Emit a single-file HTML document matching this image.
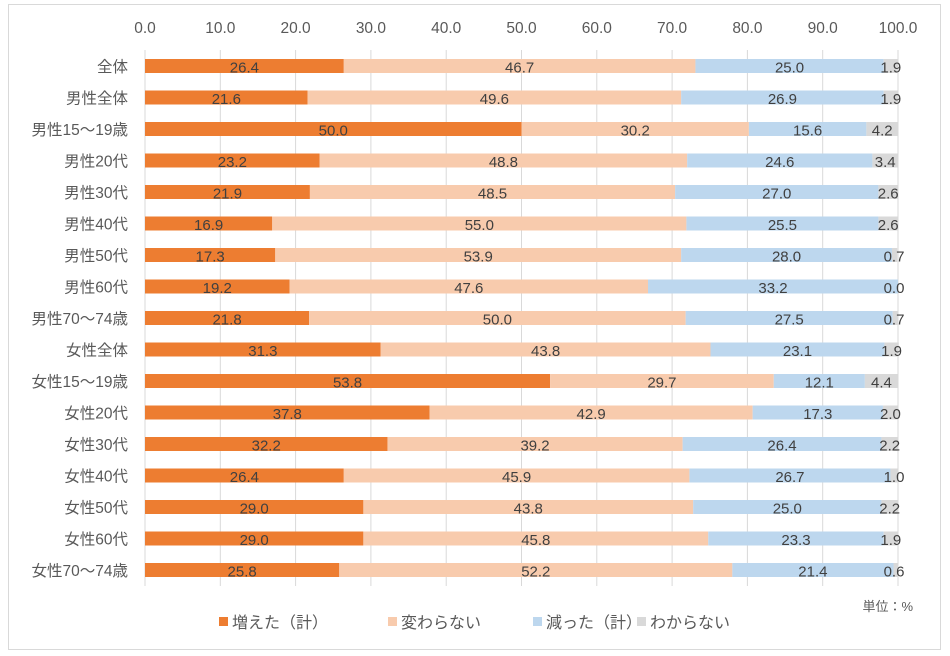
<!DOCTYPE html>
<html><head><meta charset="utf-8"><style>
body{margin:0;background:#fff;}
svg{display:block;font-family:"Liberation Sans","Noto Sans CJK JP",sans-serif;}
</style></head><body>
<svg id="c" width="950" height="656">
<rect x="8.5" y="4.5" width="932" height="645" fill="#fff" stroke="#d9d9d9"/>
<g id="grid"></g><g id="bars"></g><g id="labels"></g>
<text x="913" y="611" font-size="13" fill="#595959" text-anchor="end">単位：%</text>
<g id="legend"></g>
</svg>
<script>
const categories=["全体","男性全体","男性15～19歳","男性20代","男性30代","男性40代","男性50代","男性60代","男性70～74歳","女性全体","女性15～19歳","女性20代","女性30代","女性40代","女性50代","女性60代","女性70～74歳"];
const increased=[26.4,21.6,50.0,23.2,21.9,16.9,17.3,19.2,21.8,31.3,53.8,37.8,32.2,26.4,29.0,29.0,25.8];
const unchanged=[46.7,49.6,30.2,48.8,48.5,55.0,53.9,47.6,50.0,43.8,29.7,42.9,39.2,45.9,43.8,45.8,52.2];
const decreased=[25.0,26.9,15.6,24.6,27.0,25.5,28.0,33.2,27.5,23.1,12.1,17.3,26.4,26.7,25.0,23.3,21.4];
const unknown=[1.9,1.9,4.2,3.4,2.6,2.6,0.7,0.0,0.7,1.9,4.4,2.0,2.2,1.0,2.2,1.9,0.6];
const ticks=[0,10,20,30,40,50,60,70,80,90,100];
const seriesNames=["増えた（計）","変わらない","減った（計）","わからない"];
const colors=["#ED7D31","#F8CBAD","#BDD7EE","#D9D9D9"];
const NS="http://www.w3.org/2000/svg";
const x=v=>145+v*7.53;
const y=i=>66+i*31.5;
function mk(tag,attrs,parent,text){const e=document.createElementNS(NS,tag);for(const k in attrs)e.setAttribute(k,attrs[k]);if(text!==undefined)e.textContent=text;parent.appendChild(e);return e;}
const grid=document.getElementById('grid'),bars=document.getElementById('bars'),labels=document.getElementById('labels'),legend=document.getElementById('legend');
ticks.forEach(t=>{
  const l=mk('line',{x1:x(t),x2:x(t),y1:50,y2:586,stroke:'#d9d9d9'},grid);
  
  
  const tx=mk('text',{x:x(t),y:33,'font-size':15.5,fill:'#595959','text-anchor':'middle'},grid,t.toFixed(1));
  
  
});
const series=[increased,unchanged,decreased,unknown];
categories.forEach((c,i)=>{
  const cl=mk('text',{x:128,y:y(i)+6,'font-size':15.5,fill:'#595959','text-anchor':'end'},labels,c);
  
  
  let acc=0;
  series.forEach((s,k)=>{
    const v=s[i];
    const r=mk('rect',{x:x(acc),y:y(i)-7,width:Math.max(0,x(acc+v)-x(acc)),height:14,fill:colors[k]},bars);
    
    
    let cx=x(acc+v/2);
    if(k===3)cx=Math.min(cx,894);
    const t=mk('text',{x:cx,y:y(i)+6.5,'font-size':15,fill:'#404040','text-anchor':'middle'},labels,v.toFixed(1));
    
    
    acc+=v;
  });
});
const lx=[219,388,533,637];
seriesNames.forEach((n,k)=>{
  const g=mk('g',{},legend);
  
  
  mk('rect',{x:lx[k],y:617,width:9,height:9,fill:colors[k]},g);
  mk('text',{x:lx[k]+13,y:628,'font-size':16,fill:'#595959'},g,n);
});
</script>
</body></html>
